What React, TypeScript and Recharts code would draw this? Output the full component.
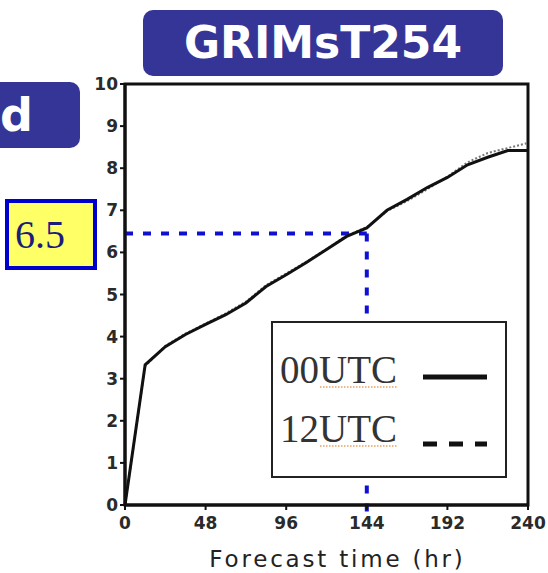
import React from "react";
import { LineChart, Line, XAxis, YAxis, ReferenceLine, ReferenceArea } from "recharts";

const hours = [0, 12, 24, 36, 48, 60, 72, 84, 96, 108, 120, 132, 144, 156, 168, 180, 192, 204, 216, 228, 240];
const utc00 = [0, 3.33, 3.76, 4.05, 4.29, 4.52, 4.8, 5.19, 5.47, 5.76, 6.07, 6.38, 6.58, 7.0, 7.26, 7.54, 7.78, 8.08, 8.26, 8.42, 8.42];
const utc12 = [0, 3.3, 3.78, 4.07, 4.31, 4.55, 4.83, 5.22, 5.5, 5.78, 6.08, 6.4, 6.6, 6.98, 7.22, 7.5, 7.8, 8.14, 8.36, 8.48, 8.6];
const xTicks = [0, 48, 96, 144, 192, 240];
const yTicks = [0, 1, 2, 3, 4, 5, 6, 7, 8, 9, 10];
const markHour = 144;
const markValue = 6.45;
const markLabel = "6.5";
const seriesNames = ["00UTC", "12UTC"];

const data = hours.map((h, i) => ({ h, a: utc00[i], b: utc12[i] }));

const LegendBox = () => (
  <svg width={236} height={157} style={{ display: "block" }}>
    <rect x={1} y={1} width={234} height={155} fill="#fff" stroke="#222" strokeWidth={2} />
    <text x={9} y={62} fontFamily="'Liberation Serif', serif" fontSize={39} fill="#333">{seriesNames[0]}</text>
    <line x1={49} x2={126} y1={66} y2={66} stroke="#e8a060" strokeWidth={1.5} strokeDasharray="1.5 1.5" />
    <line x1={152} x2={216} y1={56} y2={56} stroke="#111" strokeWidth={5} />
    <text x={9} y={121} fontFamily="'Liberation Serif', serif" fontSize={39} fill="#333">{seriesNames[1]}</text>
    <line x1={49} x2={126} y1={125} y2={125} stroke="#e8a060" strokeWidth={1.5} strokeDasharray="1.5 1.5" />
    <line x1={152} x2={216} y1={123} y2={123} stroke="#111" strokeWidth={5} strokeDasharray="14 12" />
  </svg>
);

export default function App() {
  return (
    <div style={{ position: "absolute", left: 0, top: 0, width: 548, height: 573, background: "#fff", overflow: "hidden" }}>
      <LineChart width={548} height={573} data={data} margin={{ top: 84, right: 20, left: 0, bottom: 0 }}>
        <XAxis
          dataKey="h"
          type="number"
          domain={[0, 240]}
          ticks={xTicks}
          height={68}
          axisLine={{ stroke: "#111", strokeWidth: 3 }}
          tickLine={{ stroke: "#111", strokeWidth: 2 }}
          tickSize={5}
          tickMargin={7}
          tick={{ fill: "#2a2a2a", fontSize: 17, fontWeight: "bold", fontFamily: "'DejaVu Sans', sans-serif" }}
          label={{
            value: "Forecast time (hr)",
            position: "insideBottom",
            offset: 6,
            dx: 11,
            fill: "#222",
            fontSize: 23,
            fontFamily: "'DejaVu Sans', sans-serif",
            style: { letterSpacing: "2.8px" },
          }}
        />
        <YAxis
          type="number"
          domain={[0, 10]}
          ticks={yTicks}
          width={125}
          axisLine={{ stroke: "#111", strokeWidth: 3 }}
          tickLine={{ stroke: "#111", strokeWidth: 2 }}
          tickSize={5}
          tickMargin={2}
          tick={{ fill: "#2a2a2a", fontSize: 17, fontWeight: "bold", fontFamily: "'DejaVu Sans', sans-serif" }}
        />
        <ReferenceArea x1={0} x2={240} y1={0} y2={10} fill="none" stroke="#111" strokeWidth={3} ifOverflow="visible" />
        <ReferenceLine
          segment={[{ x: 0, y: markValue }, { x: markHour, y: markValue }]}
          stroke="#1010d0"
          strokeWidth={4}
          strokeDasharray="8 10"
          ifOverflow="visible"
        />
        <ReferenceLine
          segment={[{ x: markHour, y: markValue }, { x: markHour, y: -0.38 }]}
          stroke="#1010d0"
          strokeWidth={4}
          strokeDasharray="8 10"
          ifOverflow="visible"
        />
        <Line dataKey="b" name={seriesNames[1]} stroke="#777" strokeWidth={2} strokeDasharray="2 2" dot={false} isAnimationActive={false} />
        <Line dataKey="a" name={seriesNames[0]} stroke="#111" strokeWidth={3} dot={false} isAnimationActive={false} />
      </LineChart>

      <div style={{ position: "absolute", left: 271, top: 321, width: 236, height: 157 }}>
        <LegendBox />
      </div>

      <div
        style={{
          position: "absolute", left: 143, top: 10, width: 360, height: 66, background: "#353597", borderRadius: 10,
          color: "#fff", fontFamily: "'DejaVu Sans', sans-serif", fontWeight: "bold", fontSize: 44,
          display: "flex", alignItems: "center", justifyContent: "center", lineHeight: 1,
        }}
      >
        GRIMsT254
      </div>
      <div
        style={{
          position: "absolute", left: -10, top: 82, width: 90, height: 66, background: "#353597", borderRadius: 10,
          color: "#fff", fontFamily: "'DejaVu Sans', sans-serif", fontWeight: "bold", fontSize: 46,
          display: "flex", alignItems: "center", lineHeight: 1, paddingLeft: 10, boxSizing: "border-box",
        }}
      >
        d
      </div>
      <div
        style={{
          position: "absolute", left: 5, top: 199, width: 92, height: 71, background: "#ffff66", border: "4px solid #0000cc",
          boxSizing: "border-box", color: "#1c1c7c", fontFamily: "'Liberation Serif', serif", fontSize: 40,
          display: "flex", alignItems: "center", paddingLeft: 6, lineHeight: 1,
        }}
      >
        {markLabel}
      </div>
    </div>
  );
}
